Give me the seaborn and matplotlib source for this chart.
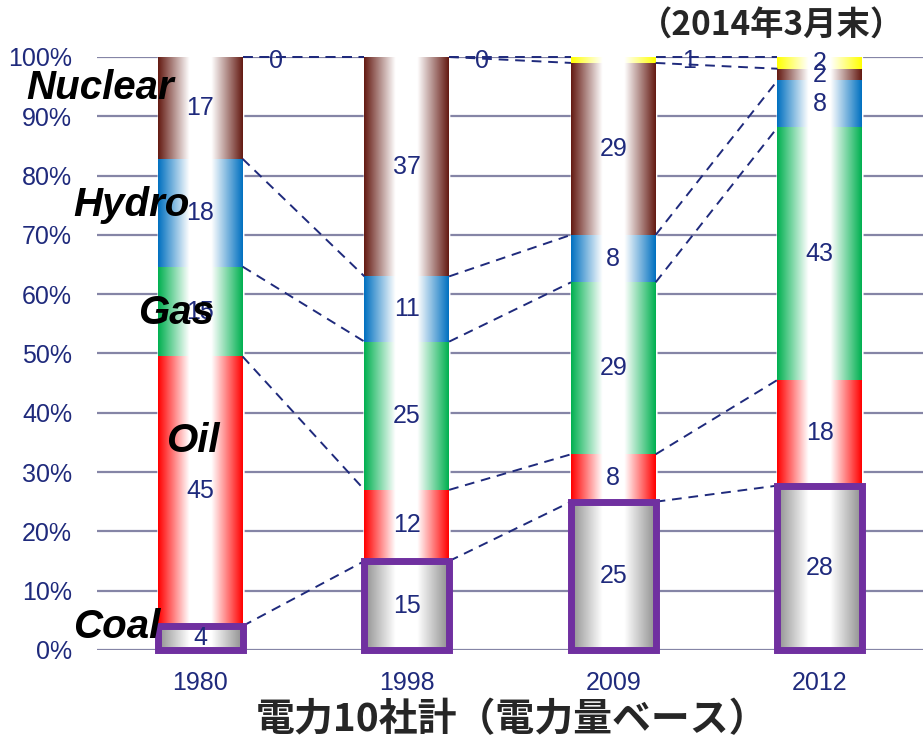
import numpy as np
import pandas as pd
import matplotlib
matplotlib.use("Agg")
import matplotlib.pyplot as plt
import seaborn as sns
from matplotlib.patches import Rectangle
from matplotlib.colors import to_rgb

# generation mix of the 10 power companies (share of kWh, %)
years = ["1980", "1998", "2009", "2012"]
sources = ["Coal", "Oil", "Gas", "Hydro", "Nuclear", "Other"]
coal = [4, 15, 25, 28]
oil = [45, 12, 8, 18]
gas = [15, 25, 29, 43]
hydro = [18, 11, 8, 8]
nuclear = [17, 37, 29, 2]
other = [0, 0, 1, 2]

colors = {"Coal": "#8e8e8e", "Oil": "#ff0000", "Gas": "#00b050",
          "Hydro": "#0070c0", "Nuclear": "#641a12", "Other": "#ffff00"}
navy = "#1f2a7c"
purple = "#7030a0"
BAR_W = 0.41

df = pd.DataFrame({"Year": years, "Coal": coal, "Oil": oil, "Gas": gas,
                   "Hydro": hydro, "Nuclear": nuclear, "Other": other})
vals = df[sources].astype(float)
shares = vals.div(vals.sum(axis=1), axis=0) * 100
cum = shares.cumsum(axis=1)
bottoms = cum - shares

sns.set_style("white")
plt.rcParams["font.family"] = ["Liberation Sans", "Noto Sans CJK JP"]

fig = plt.figure(figsize=(9.24, 7.49), dpi=100)
ax = fig.add_axes([0.105, 0.1322, 0.894, 0.7917])

# stacked bars: cumulative totals drawn from the top down
for s in reversed(sources):
    sns.barplot(x=df["Year"], y=cum[s], color=colors[s], width=BAR_W,
                saturation=1, ax=ax, zorder=2)


def gradient(color, n=256):
    rgb = np.array(to_rgb(color))
    t = np.linspace(0, 1, n)
    w = np.clip((np.abs(t - 0.5) - 0.13) / 0.37, 0, 1)
    img = 1 - w[:, None] * (1 - rgb)[None, :]
    return img[None, :, :]


# gradient fill on each segment
for i in range(len(years)):
    x0, x1 = i - BAR_W / 2, i + BAR_W / 2
    for s in sources:
        b, h = bottoms.loc[i, s], shares.loc[i, s]
        if h <= 0:
            continue
        ax.imshow(gradient(colors[s]), extent=[x0, x1, b, b + h],
                  aspect="auto", interpolation="bilinear", zorder=3)
    ax.add_patch(Rectangle((x0, 0), BAR_W, shares.loc[i, "Coal"], fill=False,
                           edgecolor=purple, lw=5, zorder=5, clip_on=False))

# dashed connectors between segment tops
for i in range(len(years) - 1):
    for s in sources:
        ax.plot([i + BAR_W / 2, i + 1 - BAR_W / 2], [cum.loc[i, s], cum.loc[i + 1, s]],
                color=navy, lw=1.4, ls=(0, (5, 3.5)), zorder=4, clip_on=False)

# value labels
for i in range(len(years)):
    for s in sources:
        v = df.loc[i, s]
        y = bottoms.loc[i, s] + shares.loc[i, s] / 2
        x = i
        if s == "Other" and v < 2:
            x = i + BAR_W / 2 + 0.16
            y = 99.3
        ax.text(x, y, str(v), ha="center", va="center", fontsize=18,
                color=navy, zorder=6)

# source names next to the 1980 bar
names = {"Nuclear": (-0.484, 94.8), "Hydro": (-0.334, 75.0), "Gas": (-0.116, 56.8),
         "Oil": (-0.034, 35.2), "Coal": (-0.407, 3.9)}
for s, (x, y) in names.items():
    ax.text(x, y, s, ha="center", va="center", fontsize=29, fontweight="bold",
            fontstyle="italic", color="black", zorder=7)

ax.set_xlim(-0.5, 3.5)
ax.set_ylim(0, 100)
ax.set_yticks(range(0, 101, 10))
ax.set_yticklabels([f"{t}%" for t in range(0, 101, 10)])
ax.yaxis.grid(True, color="#8585a6", lw=1.6)
ax.set_axisbelow(True)
sns.despine(ax=ax, left=True, bottom=True)
ax.tick_params(axis="y", length=0, pad=18, labelsize=18, labelcolor=navy)
ax.tick_params(axis="x", length=0, pad=15, labelsize=18, labelcolor=navy)
ax.set_xlabel("")
ax.set_ylabel("")

fig.text(772 / 924, 1 - 26 / 749, "（2014年3月末）", ha="center", va="center",
         fontsize=24, fontweight="bold", family=["Noto Sans CJK JP"])
fig.text(512 / 924, 1 - 720 / 749, "電力10社計（電力量ベース）", ha="center", va="center",
         fontsize=28, fontweight="bold", family=["Noto Sans CJK JP"])

fig.savefig("out.png", dpi=100)
